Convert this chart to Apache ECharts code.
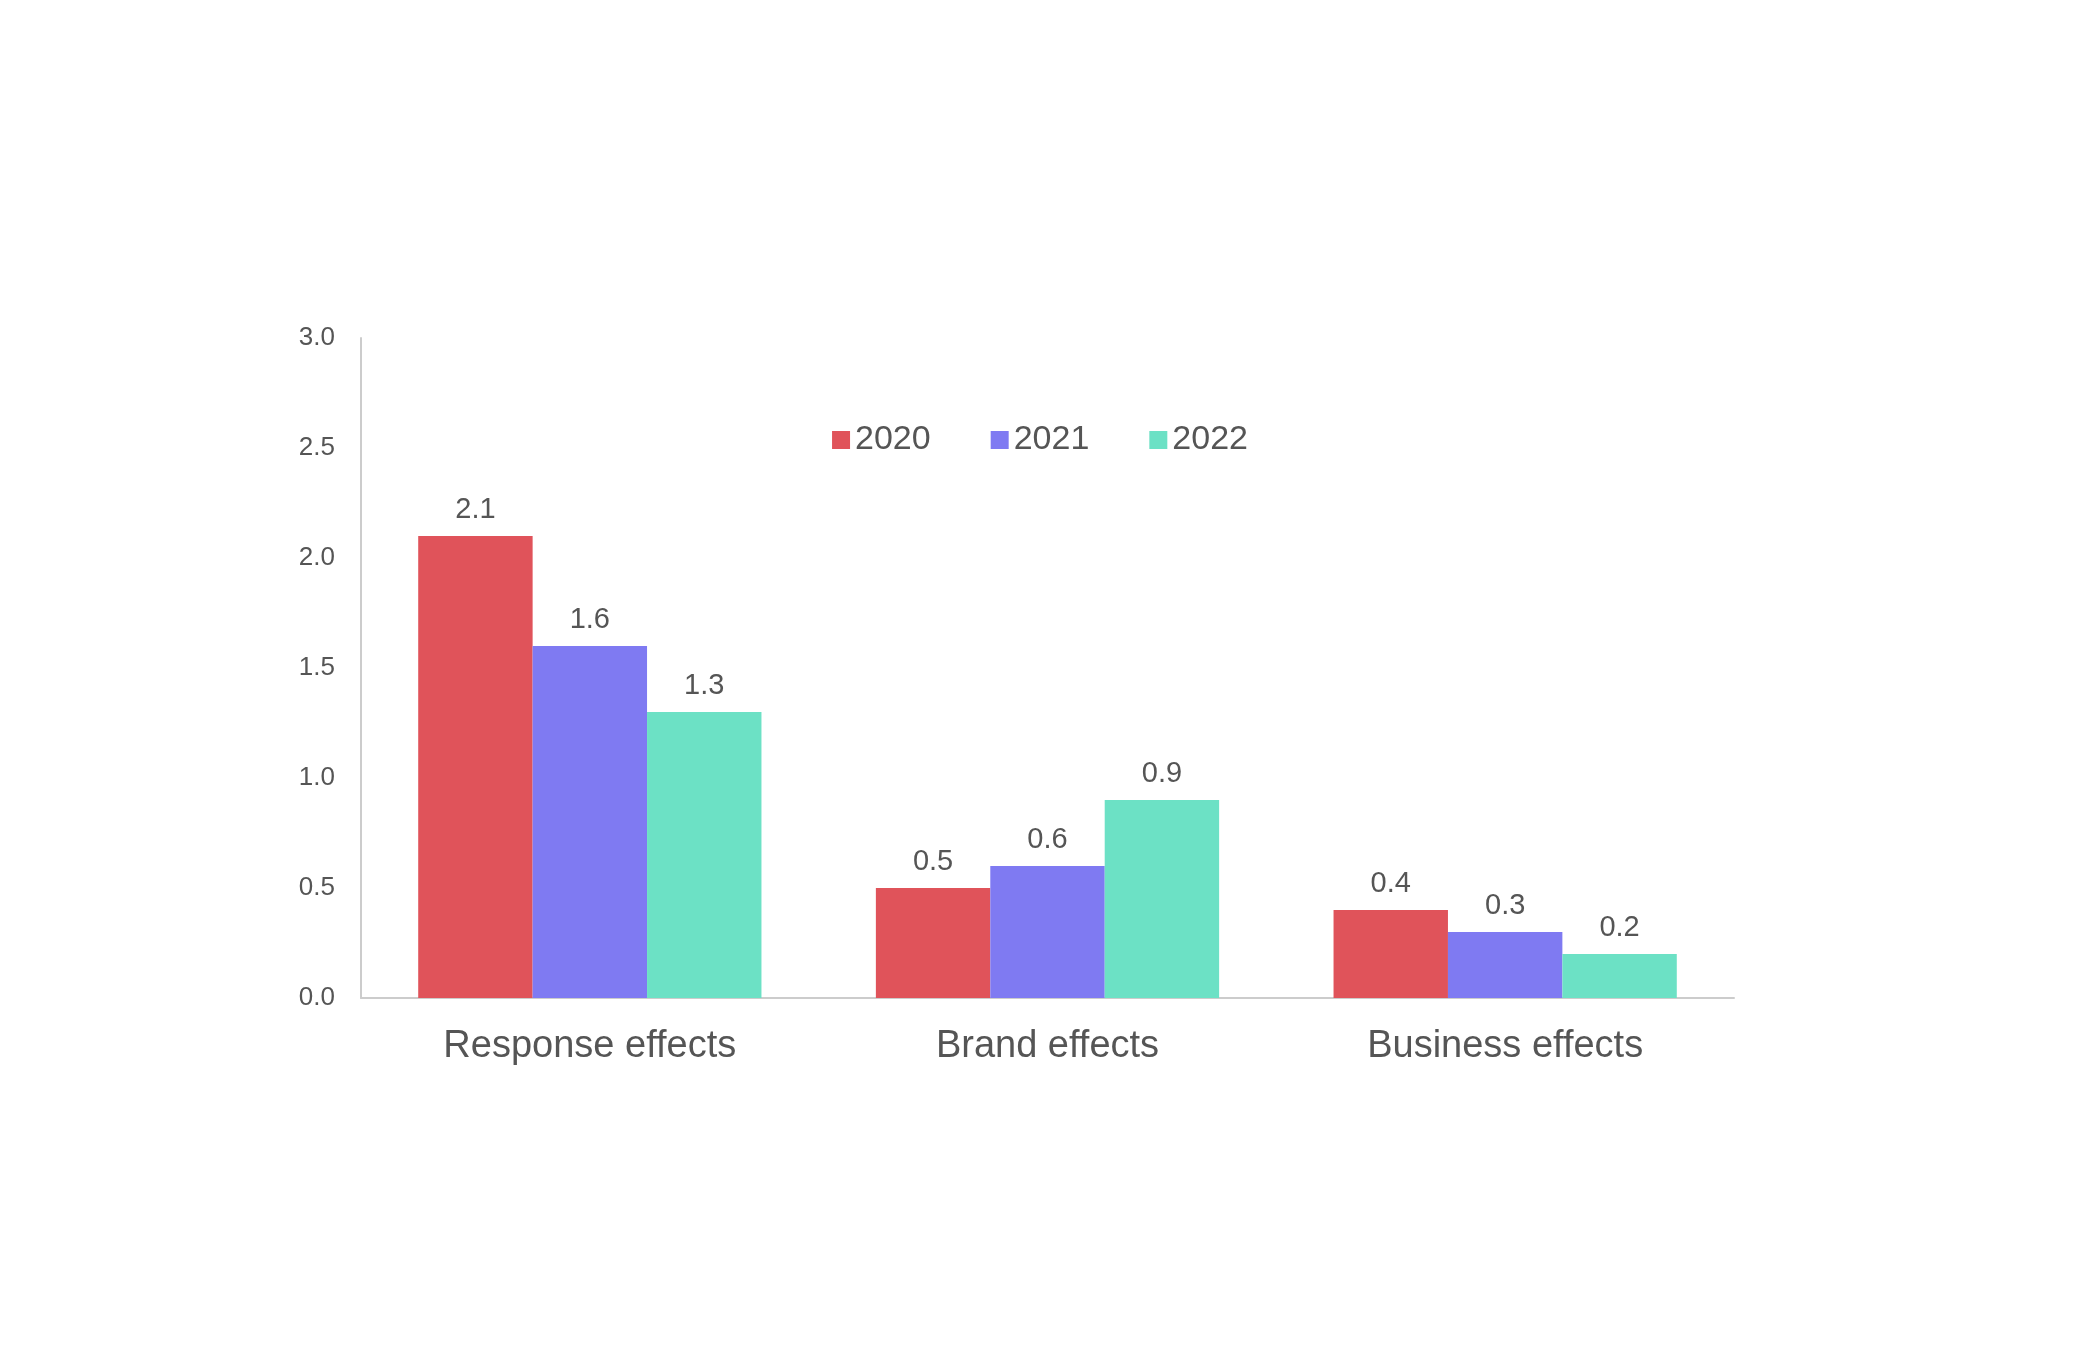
<!DOCTYPE html>
<html><head><meta charset="utf-8">
<script src="https://cdn.jsdelivr.net/npm/echarts@6/dist/echarts.min.js"></script>
<style>html,body{margin:0;background:#fff}#c{width:2080px;height:1358px}</style>
</head><body><div id="c"></div>
<script>
const categories = ['Response effects', 'Brand effects', 'Business effects'];
const seriesNames = ['2020', '2021', '2022'];
const values2020 = [2.1, 0.5, 0.4];
const values2021 = [1.6, 0.6, 0.3];
const values2022 = [1.3, 0.9, 0.2];
const colors = ['#E0535A', '#7F7AF2', '#6CE1C5'];
const allValues = [values2020, values2021, values2022];
const chart = echarts.init(document.getElementById('c'));
chart.setOption({
  animation: false,
  backgroundColor: '#fff',
  legend: {
    top: 418, left: 'center', itemWidth: 18, itemHeight: 18, itemGap: 60, icon: 'rect',
    textStyle: { fontSize: 34, color: '#555', fontFamily: 'Liberation Sans' }
  },
  grid: { left: 361, top: 338, width: 1373, bottom: 360 },
  xAxis: {
    type: 'category', data: categories,
    axisLine: { lineStyle: { color: '#ccc', width: 2 } },
    axisTick: { show: false },
    axisLabel: { fontSize: 38, color: '#555', margin: 30, fontFamily: 'Liberation Sans' }
  },
  yAxis: {
    type: 'value', min: 0, max: 3, interval: 0.5,
    splitLine: { show: false },
    axisLine: { show: true, lineStyle: { color: '#ccc', width: 2 } },
    axisLabel: { fontSize: 26, color: '#555', margin: 26, formatter: v => v.toFixed(1), fontFamily: 'Liberation Sans' }
  },
  series: seriesNames.map((n, i) => ({
    name: n, type: 'bar', data: allValues[i],
    itemStyle: { color: colors[i] },
    barGap: '0%', barCategoryGap: '25%',
    label: { show: true, position: 'top', distance: 12, fontSize: 29, color: '#555', formatter: p => p.value.toFixed(1), fontFamily: 'Liberation Sans' }
  }))
});
</script></body></html>
